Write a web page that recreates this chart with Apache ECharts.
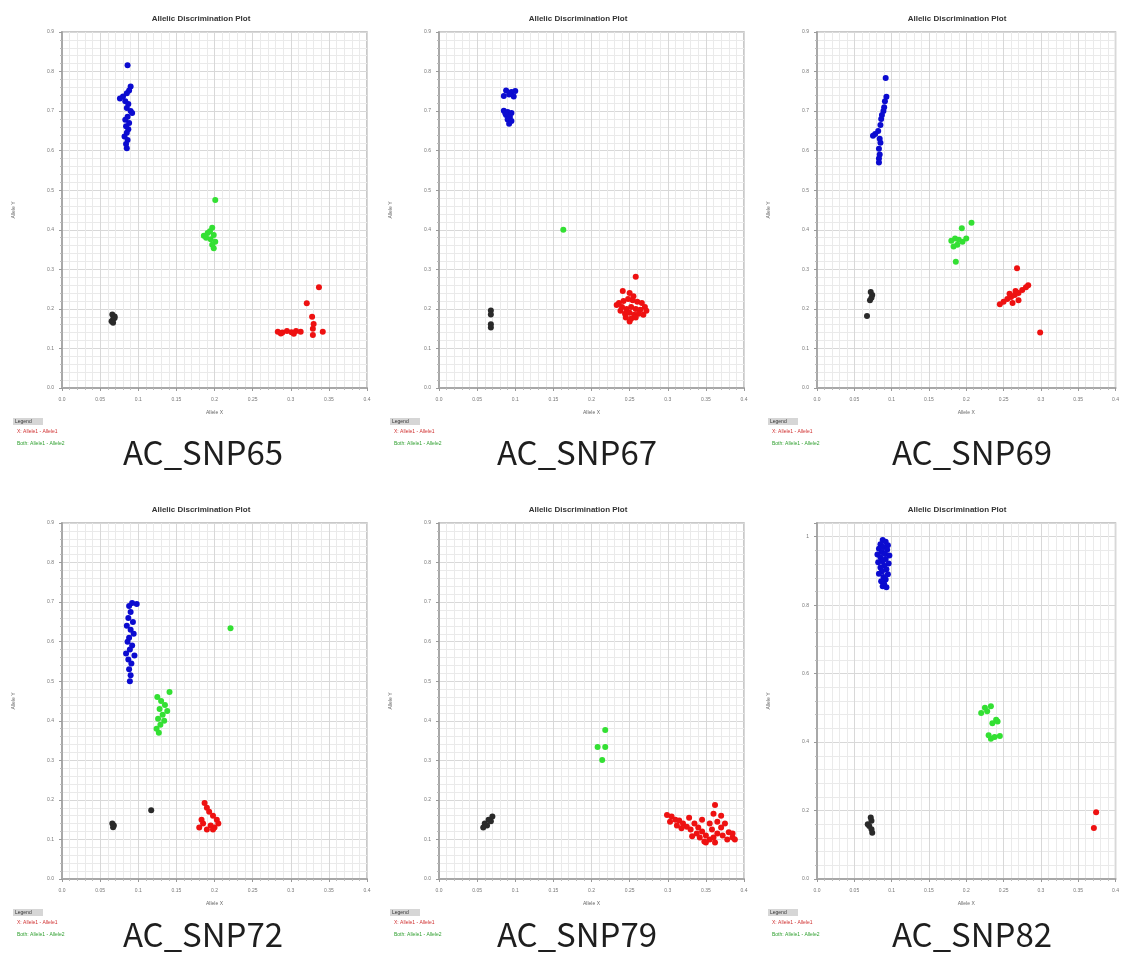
<!DOCTYPE html>
<html>
<head>
<meta charset="utf-8">
<script src="https://cdn.jsdelivr.net/npm/echarts@6/dist/echarts.min.js"></script>
<style>html,body{margin:0;padding:0;background:#fff}#c{width:1122px;height:957px}</style>
</head>
<body>
<div id="c"></div>
<script>
// ---- data ----
const snpNames = ['AC_SNP65','AC_SNP67','AC_SNP69','AC_SNP72','AC_SNP79','AC_SNP82'];
const plotTitle = 'Allelic Discrimination Plot';
const xAxisName = 'Allele X';
const yAxisName = 'Allele Y';
const legendTitle = 'Legend';
const legendLines = ['X: Allele1 - Allele1', 'Both: Allele1 - Allele2'];

const blue65 = [[0.086,0.816],[0.090,0.762],[0.088,0.752],[0.085,0.745],[0.080,0.737],[0.076,0.732],[0.083,0.725],[0.087,0.718],[0.085,0.708],[0.090,0.700],[0.092,0.695],[0.086,0.686],[0.083,0.678],[0.088,0.670],[0.084,0.662],[0.087,0.654],[0.085,0.645],[0.082,0.636],[0.086,0.627],[0.084,0.617],[0.085,0.606]];
const green65 = [[0.201,0.475],[0.197,0.405],[0.191,0.392],[0.186,0.385],[0.194,0.396],[0.199,0.387],[0.195,0.376],[0.201,0.370],[0.197,0.362],[0.199,0.353],[0.189,0.380]];
const black65 = [[0.066,0.186],[0.069,0.181],[0.067,0.174],[0.065,0.169],[0.069,0.177],[0.067,0.165]];
const red65 = [[0.283,0.142],[0.289,0.140],[0.295,0.144],[0.301,0.141],[0.307,0.144],[0.313,0.142],[0.287,0.138],[0.304,0.137],[0.337,0.255],[0.321,0.214],[0.328,0.180],[0.329,0.150],[0.342,0.142],[0.329,0.134],[0.330,0.162]];

const blue67 = [[0.088,0.752],[0.095,0.748],[0.100,0.751],[0.085,0.738],[0.092,0.742],[0.098,0.737],[0.085,0.701],[0.090,0.698],[0.095,0.695],[0.088,0.690],[0.093,0.685],[0.090,0.679],[0.095,0.675],[0.092,0.668],[0.087,0.694]];
const green67 = [[0.163,0.400]];
const black67 = [[0.068,0.196],[0.068,0.186],[0.068,0.161],[0.068,0.153]];
const red67 = [[0.258,0.281],[0.241,0.245],[0.250,0.240],[0.255,0.232],[0.236,0.215],[0.242,0.220],[0.248,0.225],[0.254,0.222],[0.260,0.218],[0.266,0.215],[0.270,0.205],[0.240,0.205],[0.246,0.200],[0.252,0.205],[0.258,0.200],[0.264,0.198],[0.272,0.195],[0.238,0.195],[0.244,0.188],[0.250,0.190],[0.256,0.185],[0.262,0.188],[0.268,0.185],[0.245,0.178],[0.252,0.175],[0.258,0.178],[0.250,0.168],[0.233,0.210]];

const blue69 = [[0.092,0.784],[0.093,0.736],[0.091,0.725],[0.090,0.710],[0.089,0.700],[0.087,0.690],[0.086,0.680],[0.085,0.665],[0.082,0.650],[0.078,0.642],[0.075,0.638],[0.084,0.630],[0.085,0.620],[0.083,0.605],[0.084,0.590],[0.083,0.580],[0.083,0.570]];
const green69 = [[0.207,0.418],[0.194,0.404],[0.180,0.372],[0.185,0.378],[0.190,0.375],[0.195,0.370],[0.200,0.378],[0.188,0.362],[0.183,0.358],[0.186,0.319]];
const black69 = [[0.072,0.243],[0.074,0.235],[0.073,0.228],[0.071,0.222],[0.067,0.182]];
const red69 = [[0.268,0.303],[0.245,0.212],[0.250,0.218],[0.255,0.225],[0.260,0.230],[0.265,0.235],[0.270,0.240],[0.275,0.248],[0.280,0.255],[0.283,0.260],[0.262,0.215],[0.270,0.222],[0.258,0.238],[0.266,0.245],[0.299,0.140]];

const blue72 = [[0.092,0.698],[0.098,0.695],[0.088,0.690],[0.090,0.675],[0.087,0.660],[0.093,0.650],[0.085,0.640],[0.090,0.630],[0.094,0.620],[0.088,0.610],[0.086,0.600],[0.092,0.590],[0.089,0.580],[0.095,0.565],[0.087,0.555],[0.091,0.545],[0.088,0.530],[0.090,0.515],[0.089,0.500],[0.084,0.570]];
const green72 = [[0.221,0.634],[0.141,0.473],[0.125,0.460],[0.130,0.450],[0.135,0.440],[0.128,0.430],[0.138,0.425],[0.132,0.415],[0.126,0.405],[0.134,0.400],[0.129,0.390],[0.124,0.380],[0.127,0.370]];
const black72 = [[0.066,0.140],[0.068,0.135],[0.067,0.131],[0.117,0.174]];
const red72 = [[0.187,0.192],[0.190,0.180],[0.193,0.170],[0.198,0.160],[0.203,0.150],[0.205,0.140],[0.200,0.130],[0.195,0.135],[0.185,0.140],[0.180,0.130],[0.190,0.125],[0.198,0.125],[0.183,0.150]];

const blue79 = [];
const green79 = [[0.218,0.377],[0.208,0.334],[0.218,0.334],[0.214,0.301]];
const black79 = [[0.060,0.140],[0.065,0.150],[0.070,0.158],[0.063,0.135],[0.068,0.146],[0.058,0.130]];
const red79 = [[0.299,0.162],[0.305,0.158],[0.310,0.150],[0.303,0.145],[0.315,0.148],[0.320,0.140],[0.312,0.135],[0.318,0.128],[0.325,0.132],[0.330,0.125],[0.335,0.140],[0.340,0.130],[0.345,0.120],[0.338,0.115],[0.332,0.108],[0.342,0.105],[0.350,0.110],[0.355,0.100],[0.348,0.095],[0.360,0.105],[0.365,0.115],[0.358,0.125],[0.362,0.187],[0.360,0.165],[0.365,0.145],[0.370,0.130],[0.372,0.110],[0.378,0.100],[0.385,0.105],[0.388,0.100],[0.380,0.118],[0.375,0.140],[0.355,0.140],[0.345,0.150],[0.328,0.155],[0.370,0.160],[0.350,0.092],[0.362,0.092],[0.385,0.115]];

const blue82 = [[0.088,0.990],[0.092,0.985],[0.085,0.978],[0.095,0.975],[0.089,0.970],[0.083,0.965],[0.094,0.962],[0.087,0.955],[0.091,0.950],[0.081,0.948],[0.097,0.945],[0.085,0.940],[0.092,0.935],[0.088,0.928],[0.082,0.925],[0.096,0.922],[0.090,0.915],[0.085,0.910],[0.093,0.905],[0.087,0.898],[0.083,0.892],[0.095,0.890],[0.089,0.882],[0.092,0.875],[0.086,0.870],[0.090,0.862],[0.088,0.855],[0.093,0.852]];
const green82 = [[0.225,0.500],[0.233,0.505],[0.228,0.490],[0.220,0.485],[0.240,0.465],[0.235,0.455],[0.242,0.460],[0.230,0.420],[0.238,0.415],[0.245,0.418],[0.233,0.410]];
const black82 = [[0.072,0.180],[0.073,0.170],[0.068,0.160],[0.070,0.155],[0.073,0.145],[0.074,0.135]];
const red82 = [[0.374,0.195],[0.371,0.149]];

const xTicks = {min:0, max:0.4, interval:0.05};
const yTicks = [
  {min:0, max:0.9, interval:0.1},{min:0, max:0.9, interval:0.1},{min:0, max:0.9, interval:0.1},
  {min:0, max:0.9, interval:0.1},{min:0, max:0.9, interval:0.1},{min:0, max:1.04, interval:0.2}
];

const panels = [
  {blue:blue65, green:green65, black:black65, red:red65},
  {blue:blue67, green:green67, black:black67, red:red67},
  {blue:blue69, green:green69, black:black69, red:red69},
  {blue:blue72, green:green72, black:black72, red:red72},
  {blue:blue79, green:green79, black:black79, red:red79},
  {blue:blue82, green:green82, black:black82, red:red82}
];

// ---- layout ----
const colLeft = [62, 439, 817];
const colWidth = 305;
const rowTop = [32, 523];
const rowHeight = 356;
const titleX = [196, 573, 952];
const bigX = [198, 572, 967];
const bigY = [447, 929];
const legendX = [13, 390, 768];
const legendY = [418, 909];
const colors = {blue:'#0b0bd0', green:'#33e033', black:'#2a2a2a', red:'#ee1111'};

const fmt = v => (v === 0 ? '0.0' : String(+v.toFixed(2)));

const grids = [], xAxes = [], yAxes = [], series = [], titles = [], graphics = [];
panels.forEach((p, i) => {
  const r = Math.floor(i / 3), c = i % 3;
  grids.push({left: colLeft[c], top: rowTop[r], width: colWidth, height: rowHeight,
    show: true, borderColor: '#b8b8b8', borderWidth: 1.5, backgroundColor: '#fff'});
  xAxes.push({type:'value', gridIndex:i, min:xTicks.min, max:xTicks.max, interval:xTicks.interval,
    name:xAxisName, nameLocation:'middle', nameGap:22, nameTextStyle:{fontSize:5, color:'#666'},
    axisLine:{show:true, onZero:false, lineStyle:{color:'#a8a8a8', width:2}},
    axisTick:{show:true, length:3, lineStyle:{color:'#999'}},
    minorTick:{show:true, splitNumber:5, length:2, lineStyle:{color:'#bbb'}},
    axisLabel:{fontSize:5, color:'#777', margin:9, formatter:fmt},
    splitLine:{show:true, lineStyle:{color:'#d8d8d8', width:1}},
    minorSplitLine:{show:true, lineStyle:{color:'#eaeaea', width:1}}});
  const yt = yTicks[i];
  yAxes.push({type:'value', gridIndex:i, min:yt.min, max:yt.max, interval:yt.interval,
    name:yAxisName, nameLocation:'middle', nameGap:46, nameTextStyle:{fontSize:5, color:'#666'},
    axisLine:{show:true, onZero:false, lineStyle:{color:'#a8a8a8', width:2}},
    axisTick:{show:true, length:3, lineStyle:{color:'#999'}},
    minorTick:{show:true, splitNumber:5, length:2, lineStyle:{color:'#bbb'}},
    axisLabel:{fontSize:5, color:'#777', margin:8, formatter:fmt, showMaxLabel: i !== 5},
    splitLine:{show:true, lineStyle:{color:'#d8d8d8', width:1}},
    minorSplitLine:{show:true, lineStyle:{color:'#eaeaea', width:1}}});
  ['black','green','red','blue'].forEach(k => {
    series.push({type:'scatter', xAxisIndex:i, yAxisIndex:i, data:p[k], symbol:'circle', symbolSize:6,
      itemStyle:{color:colors[k], opacity:1}, silent:true, animation:false});
  });
  titles.push({text:plotTitle, left:titleX[c], top:rowTop[r]-22, textAlign:'center',
    textStyle:{fontSize:8, fontWeight:'bold', color:'#333', fontFamily:'Liberation Sans'}});
  titles.push({text:snpNames[i], left:bigX[c], top:bigY[r], textAlign:'center', textVerticalAlign:'middle',
    textStyle:{fontSize:33, fontWeight:'normal', color:'#1e1e1e', fontFamily:'Noto Sans CJK KR', lineHeight:36}});
  const ly = legendY[r];
  graphics.push({type:'rect', left:legendX[c], top:ly, shape:{width:30, height:7}, style:{fill:'#d6d6d6'}});
  graphics.push({type:'text', left:legendX[c]+2, top:ly+1, style:{text:legendTitle, fontSize:5, fill:'#333'}});
  graphics.push({type:'text', left:legendX[c]+4, top:ly+11, style:{text:legendLines[0], fontSize:5, fill:'#d03030'}});
  graphics.push({type:'text', left:legendX[c]+4, top:ly+23, style:{text:legendLines[1], fontSize:5, fill:'#30a030'}});
});

const chart = echarts.init(document.getElementById('c'), null, {renderer:'canvas'});
chart.setOption({
  backgroundColor:'#fff',
  animation:false,
  title:titles,
  grid:grids,
  xAxis:xAxes,
  yAxis:yAxes,
  series:series,
  graphic:graphics
});
</script>
</body>
</html>
